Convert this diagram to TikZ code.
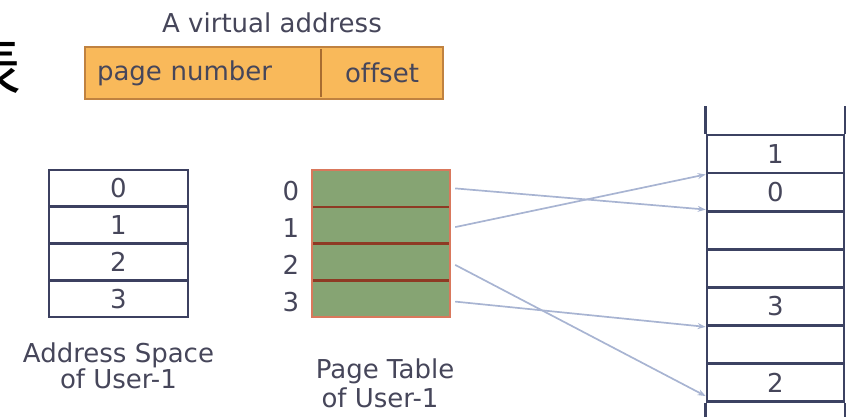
\documentclass[tikz,border=0pt]{standalone}
\usepackage{fontspec}
\setmainfont[Ligatures={NoCommon}]{DejaVu Sans}
\newfontfamily\cjk{Noto Sans CJK SC}
\usetikzlibrary{arrows.meta,calc}
\definecolor{txt}{HTML}{46465A}
\definecolor{asline}{HTML}{3C4060}
\definecolor{ptgreen}{HTML}{86A473}
\definecolor{ptdiv}{HTML}{8E3A24}
\definecolor{ptborder}{HTML}{D9785C}
\definecolor{vafill}{HTML}{F9B95A}
\definecolor{vaborder}{HTML}{C08240}
\definecolor{vadiv}{HTML}{A86C30}
\definecolor{frline}{HTML}{3C4262}
\definecolor{arrowc}{HTML}{A8B4D2}
\begin{document}
\begin{tikzpicture}[x=1pt,y=-1pt,
  lbl/.style={text=txt, font=\fontsize{26}{26}\selectfont, inner sep=0pt},
  vacell/.style={fill=vafill, draw=none, minimum height=50pt, inner sep=0pt, text=txt, font=\fontsize{26}{26}\selectfont},
  ascell/.style={draw=asline, line width=2.6pt, minimum width=139pt, minimum height=36.75pt, inner sep=0pt, text=txt, font=\fontsize{26}{26}\selectfont},
  ptcell/.style={fill=ptgreen, draw=none, minimum width=138pt, minimum height=36.75pt, inner sep=0pt},
  frcell/.style={draw=frline, line width=2.7pt, minimum width=137pt, minimum height=38.1pt, inner sep=0pt, text=txt, font=\fontsize{26}{26}\selectfont},
  frameline/.style={draw=frline, line width=2.7pt},
  map/.style={draw=arrowc, line width=1.7pt, -{Stealth[length=8pt,width=6pt]}}
]
\useasboundingbox (0,0) rectangle (846,417);

% cropped character at the left edge
\node[font=\cjk\fontsize{64}{64}\selectfont, anchor=east, inner sep=0pt] (kanji) at (22,66) {表};

% virtual address
\node[lbl] (vatitle) at (272,23) {A virtual address};
\node[vacell, minimum width=236pt, text width=212pt, align=left, inner xsep=12pt] (pn) at (203,73) {page number};
\node[vacell, minimum width=122pt] (off) at (382,73) {offset};
\draw[vadiv, line width=1.6pt] ([yshift=-1pt]pn.north east) -- ([yshift=1pt]pn.south east);
\draw[vaborder, line width=1.8pt] ([yshift=1pt]pn.north west) rectangle ([yshift=-1pt]off.south east);

% address space
\foreach \i/\y in {0/188.4,1/225.1,2/261.9,3/298.6}{
  \node[ascell] (a\i) at (118.5,\y) {\i};
}
\node[lbl, anchor=base] (aslabA) at (118.5,362) {Address Space};
\node[lbl, anchor=base] (aslabB) at (118.5,388) {of User-1};

% page table
\foreach \i/\y in {0/188.4,1/225.1,2/261.9,3/298.6}{
  \node[ptcell] (p\i) at (381,\y) {};
  \node[lbl] (pn\i) at (291,\y+3) {\i};
}
\foreach \i in {0,1,2}{
  \draw[ptdiv, line width=2.6pt] (p\i.south west) -- (p\i.south east);
}
\draw[ptborder, line width=1.8pt] (p0.north west) rectangle (p3.south east);
\node[lbl, anchor=base] (ptlabA) at (385,378) {Page Table};
\node[lbl, anchor=base] (ptlabB) at (380,407) {of User-1};

% physical memory frames
\foreach \k/\t in {0/1,1/0,2/{},3/{},4/3,5/{},6/2}{
  \node[frcell] (f\k) at (775.5,{135+38.1*(\k+0.5)}) {\t};
}
\draw[frameline] (f0.north west) -- ++(0,-28);
\draw[frameline] (f0.north east) -- ++(0,-28);
\draw[frameline] (f6.south west) -- ++(0,17);
\draw[frameline] (f6.south east) -- ++(0,17);

% mappings
\draw[map] ($(p0.east)+(5,0)$) -- ($(f1.south west)+(0,-3)$);
\draw[map] ($(p1.east)+(5,2)$) -- (f0.south west);
\draw[map] ($(p2.east)+(5,3)$) -- ($(f6.south west)+(0,-7)$);
\draw[map] ($(p3.east)+(5,3)$) -- (f4.south west);
\end{tikzpicture}
\end{document}
